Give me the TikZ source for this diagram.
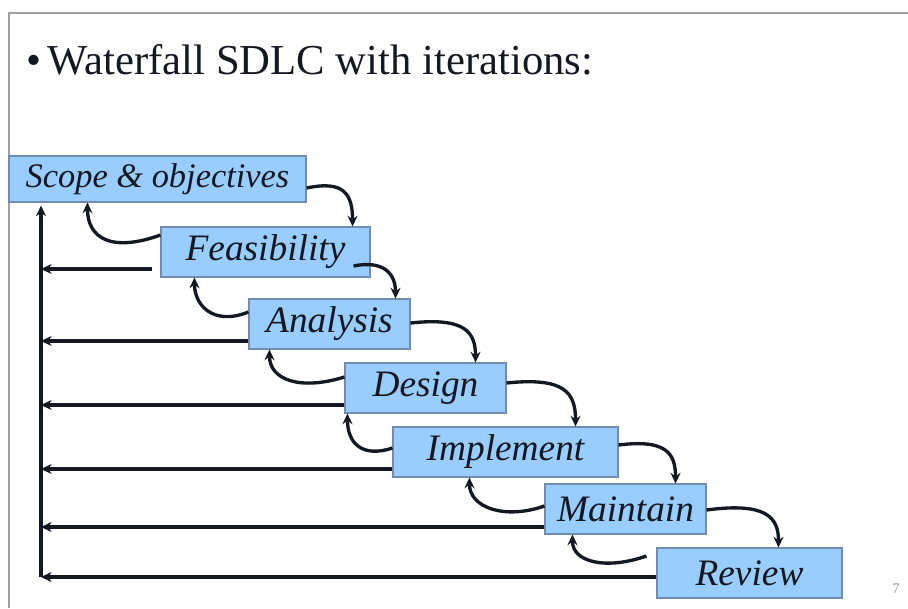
\documentclass[tikz,border=0pt]{standalone}
\usepackage{fontspec}
\setmainfont{Liberation Serif}
\usetikzlibrary{arrows.meta,calc}
\definecolor{boxfill}{HTML}{99CCFF}
\definecolor{boxline}{HTML}{6F8DB0}
\definecolor{frameline}{HTML}{A0A0A0}
\definecolor{pagenum}{HTML}{8A96A8}
\definecolor{ink}{HTML}{141820}

\begin{document}
\begin{tikzpicture}[x=0.75pt,y=-0.75pt,
  phase/.style={draw=boxline, line width=0.8pt, fill=boxfill, inner sep=0pt,
    minimum height=37.5pt, font=\fontsize{28}{31}\selectfont\itshape, text=ink},
  flow/.style={line width=2.5pt, draw=ink, -{Stealth[length=8pt,width=7.5pt]}},
  ]
\useasboundingbox (0,0) rectangle (908,608);

% slide frame
\draw[frameline, line width=1.5pt] (908,13) -- (9,13) -- (9,608);

% heading
\node[anchor=base west, inner sep=0pt, font=\fontsize{32}{38}\selectfont, text=ink]
  (title) at (26,74) {\textbullet\hspace{5pt}Waterfall SDLC with iterations:};

% phases of the waterfall
\node[phase, minimum width=222.75pt, minimum height=34.5pt,
      font=\fontsize{25.8}{29}\selectfont\itshape] (scope) at (157.5,179) {Scope \& objectives};
\node[phase, minimum width=156.75pt] (feas)   at (265.5,252) {Feasibility};
\node[phase, minimum width=120.75pt] (anal)   at (329.5,324) {Analysis};
\node[phase, minimum width=120.75pt] (design) at (425.5,388) {Design};
\node[phase, minimum width=168.75pt] (impl)   at (505.5,452) {Implement};
\node[phase, minimum width=120.75pt] (maint)  at (625.5,509) {Maintain};
\node[phase, minimum width=138.75pt] (review) at (749.5,573) {Review};

% forward steps
\draw[flow] ($(scope.east)+(0,9)$) .. controls +(38,-8) and +(0,-32) .. ($(feas.north east)+(-18,0)$);
\draw[flow] ($(feas.east)+(-17,14)$) .. controls +(30,-6) and +(0,-25) .. ($(anal.north east)+(-15,0)$);
\draw[flow] ($(anal.east)+(0,-1)$) .. controls +(55,-6) and +(0,-30) .. ($(design.north east)+(-31,0)$);
\draw[flow] ($(design.east)+(0,-5)$) .. controls +(58,-6) and +(0,-34) .. ($(impl.north east)+(-43,0)$);
\draw[flow] ($(impl.east)+(0,-7)$) .. controls +(48,-6) and +(0,-30) .. ($(maint.north east)+(-31,0)$);
\draw[flow] ($(maint.east)+(0,1)$) .. controls +(60,-8) and +(0,-30) .. ($(review.north east)+(-64,0)$);

% iterations back to the previous phase
\draw[flow] ($(feas.west)+(0,-17)$) .. controls +(-50,18) and +(0,35) .. ($(scope.south west)+(79,0)$);
\draw[flow] ($(anal.west)+(0,-12)$) .. controls +(-35,14) and +(0,28) .. ($(feas.south west)+(34,0)$);
\draw[flow] ($(design.west)+(0,-11)$) .. controls +(-45,14) and +(0,30) .. ($(anal.south west)+(21,0)$);
\draw[flow] ($(impl.west)+(0,-4)$) .. controls +(-30,10) and +(0,30) .. ($(design.south west)+(3,0)$);
\draw[flow] ($(maint.west)+(0,-3)$) .. controls +(-40,14) and +(0,30) .. ($(impl.south west)+(77,0)$);
\draw[flow] ($(review.west)+(-10,-17)$) .. controls +(-40,14) and +(0,28) .. ($(maint.south west)+(28,0)$);

% return channel to the first phase
\coordinate (corner) at (41,577);
\coordinate (top) at ($(corner |- scope.south)+(0,3)$);
\draw[flow] (corner) -- (top);

\coordinate (rf) at ($(feas.west)+(-8,17)$);
\coordinate (ra) at ($(anal.west)+(0,17)$);
\coordinate (rd) at ($(design.west)+(0,17)$);
\coordinate (ri) at ($(impl.west)+(0,17)$);
\coordinate (rm) at ($(maint.west)+(0,18)$);
\coordinate (rr) at ($(review.west)+(0,4)$);
\draw[flow] (rf) -- (rf -| corner);
\draw[flow] (ra) -- (ra -| corner);
\draw[flow] (rd) -- (rd -| corner);
\draw[flow] (ri) -- (ri -| corner);
\draw[flow] (rm) -- (rm -| corner);
\draw[flow] (rr) -- (rr -| corner);

% page number
\node[inner sep=0pt, font=\fontsize{11}{12}\selectfont, text=pagenum] (pg) at (896,589) {7};
\end{tikzpicture}
\end{document}
